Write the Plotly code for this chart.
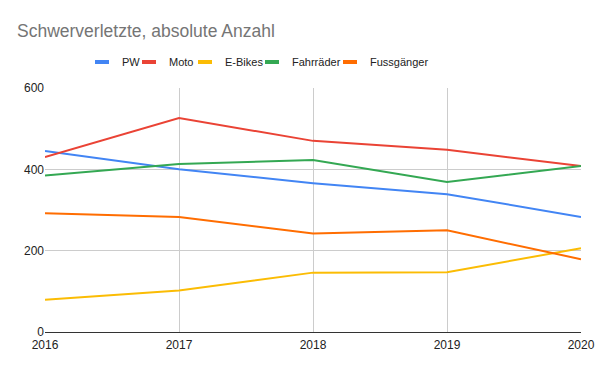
import plotly.graph_objects as go

years = [2016, 2017, 2018, 2019, 2020]
pw = [445, 400, 366, 339, 283]
moto = [430, 526, 470, 448, 408]
ebikes = [79, 102, 146, 147, 206]
fahrraeder = [385, 413, 423, 369, 408]
fussgaenger = [292, 283, 242, 250, 179]

series = [
    ("PW", pw, "#4285f4"),
    ("Moto", moto, "#ea4335"),
    ("E-Bikes", ebikes, "#fbbc04"),
    ("Fahrräder", fahrraeder, "#34a853"),
    ("Fussgänger", fussgaenger, "#ff6d01"),
]
# pixel x of each legend swatch centre in the reference
legend_centres = [105, 152, 208, 275, 353]

FONT = "Liberation Sans, Arial, sans-serif"
L, R, T, B = 45, 19, 88, 39
PW_ = 600 - L - R
PH_ = 371 - T - B

fig = go.Figure()
for name, vals, col in series:
    fig.add_trace(go.Scatter(x=years, y=vals, mode="lines", name=name,
                             line=dict(color=col, width=2), showlegend=False,
                             hoverinfo="skip"))

legends = {}
for i, ((name, vals, col), cx) in enumerate(zip(series, legend_centres)):
    lname = "legend" if i == 0 else f"legend{i + 1}"
    fig.add_trace(go.Scatter(x=[None], y=[None], mode="markers", name=name,
                             marker=dict(symbol="line-ew", size=10, color=col,
                                         line=dict(color=col, width=4)),
                             showlegend=True, legend=lname))
    legends[lname] = dict(orientation="h", x=(cx - 23 - L) / PW_, xanchor="left",
                          y=(371 - B - 62) / PH_, yanchor="middle",
                          font=dict(family=FONT, size=11, color="#222222"),
                          bgcolor="rgba(0,0,0,0)", borderwidth=0)

fig.update_layout(
    width=600, height=371,
    margin=dict(l=L, r=R, t=T, b=B, autoexpand=False),
    paper_bgcolor="white", plot_bgcolor="white",
    font=dict(family=FONT, size=12, color="#222222"),
    title=dict(text="Schwerverletzte, absolute Anzahl", x=17/600, xanchor="left",
               y=1 - 31/371, yanchor="middle",
               font=dict(family=FONT, size=17.5, color="#757575")),
    showlegend=True,
    **legends,
)
fig.update_xaxes(range=[2016, 2020], tickmode="array", tickvals=years,
                 ticktext=[str(y) for y in years],
                 showgrid=True, gridcolor="#cccccc", gridwidth=1,
                 showline=True, linecolor="#333333", linewidth=1,
                 zeroline=False, ticks="", mirror=False, automargin=False,
                 ticklabelstandoff=2,
                 tickfont=dict(family=FONT, size=12, color="#222222"))
fig.update_yaxes(range=[0, 600], tickvals=[0, 200, 400, 600],
                 showgrid=True, gridcolor="#cccccc", gridwidth=1,
                 zeroline=False, showline=False, ticks="", automargin=False,
                 tickfont=dict(family=FONT, size=12, color="#222222"))

fig.write_html("out.html", config={"displayModeBar": False},
               post_script="document.body.style.margin='0';document.body.style.padding='0';")
